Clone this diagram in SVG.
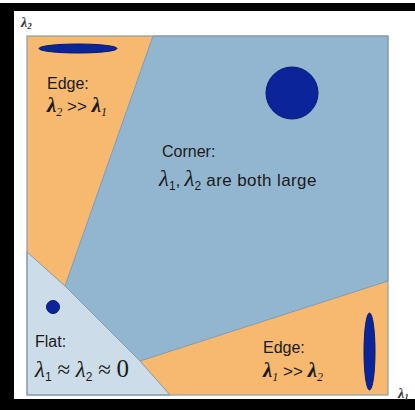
<svg xmlns="http://www.w3.org/2000/svg" width="415" height="410" viewBox="0 0 415 410">
<style>
.lbl{font-family:"Liberation Sans",Arial,sans-serif;font-size:16px;fill:#1a1a1a}
.lam{font-family:"Liberation Serif","Times New Roman",serif;font-weight:bold;font-style:italic}
.lamu{font-family:"Liberation Serif","Times New Roman",serif}
.sub{font-size:12px}
.blob{fill:#0b249a;stroke:#061a6e;stroke-width:1}
.orange{fill:#f6b96f}
.reg{stroke:#7f9db5;stroke-width:1}
</style>
<rect x="0" y="3" width="415" height="407" fill="#000"/>
<rect x="14" y="11" width="401" height="388" fill="#fff"/>
<g id="plot">
<rect x="27" y="36" width="361" height="359" class="orange"/>
<polygon id="corner" class="reg" points="153,36 388,36 388,281 140,361 65,286" fill="#93b6d0"/>
<polygon id="flat" class="reg" points="27,252 65,286 140,361 170,395 27,395" fill="#ccdde9"/>
<rect x="27" y="36" width="361" height="359" fill="none" stroke="#8c9cab" stroke-width="1.2"/>
</g>
<g id="shapes">
<ellipse class="blob" cx="78" cy="48.5" rx="39" ry="4.5"/>
<circle class="blob" cx="292" cy="93" r="26"/>
<circle class="blob" cx="53" cy="307" r="6.5"/>
<ellipse class="blob" cx="369.5" cy="351.5" rx="5.5" ry="38.5"/>
</g>
<g id="edge-top">
<text class="lbl" x="47" y="89">Edge:</text>
<text class="lbl" x="47" y="112"><tspan class="lam" font-size="21">λ</tspan><tspan class="lamu sub" font-style="italic" dy="4">2</tspan><tspan dy="-4" font-size="17"> &gt;&gt; </tspan><tspan class="lam" font-size="21">λ</tspan><tspan class="lamu sub" font-style="italic" dy="4">1</tspan></text>
</g>
<g id="corner-label">
<text class="lbl" x="162" y="157">Corner:</text>
<text class="lbl" x="159" y="186"><tspan class="lamu" font-size="23" font-style="italic">λ</tspan><tspan class="sub" dy="4">1</tspan><tspan dy="-4">, </tspan><tspan class="lamu" font-size="23" font-style="italic">λ</tspan><tspan class="sub" dy="4">2</tspan><tspan dy="-4" font-size="17" letter-spacing="0.4"> are both large</tspan></text>
</g>
<g id="flat-label">
<text class="lbl" x="35" y="347">Flat:</text>
<text class="lbl" x="35" y="377"><tspan class="lamu" font-size="23" font-style="italic">λ</tspan><tspan class="sub" dy="4">1</tspan><tspan class="lamu" dy="-4" font-size="23"> ≈ </tspan><tspan class="lamu" font-size="23" font-style="italic">λ</tspan><tspan class="sub" dy="4">2</tspan><tspan class="lamu" dy="-4" font-size="23"> ≈ </tspan><tspan class="lamu" font-size="25">0</tspan></text>
</g>
<g id="edge-bottom">
<text class="lbl" x="263" y="353">Edge:</text>
<text class="lbl" x="263" y="377"><tspan class="lam" font-size="21">λ</tspan><tspan class="lamu sub" font-style="italic" dy="4">1</tspan><tspan dy="-4" font-size="17"> &gt;&gt; </tspan><tspan class="lam" font-size="21">λ</tspan><tspan class="lamu sub" font-style="italic" dy="4">2</tspan></text>
</g>
<g id="axes">
<text class="lamu" x="21" y="27" font-size="14" font-weight="bold" font-style="italic" fill="#333">λ<tspan font-size="9" dy="2">2</tspan></text>
<text class="lamu" x="398" y="398" font-size="14" font-weight="bold" font-style="italic" fill="#333">λ<tspan font-size="9" dy="2">1</tspan></text>
</g>
</svg>
